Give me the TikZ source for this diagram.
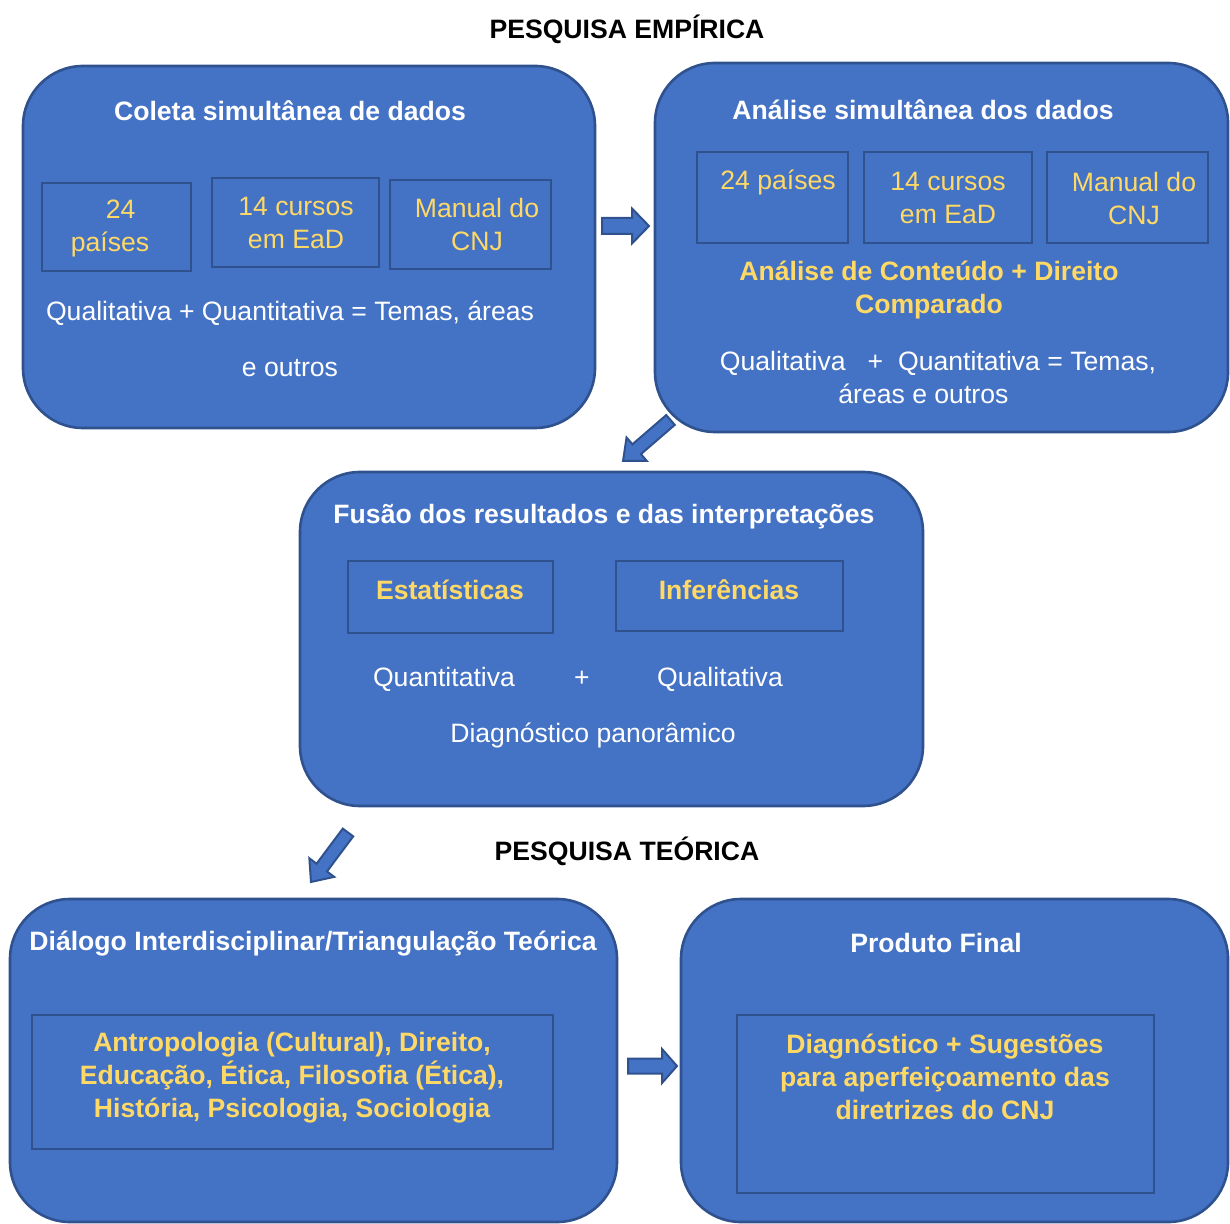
\documentclass[tikz,border=0pt]{standalone}
\usepackage{fontspec}
\setmainfont{Liberation Sans}
\usetikzlibrary{shapes.misc, arrows, shapes}

\definecolor{boxfill}{HTML}{4472C4}
\definecolor{boxline}{HTML}{2F528F}
\definecolor{gold}{HTML}{FFD966}

\tikzset{
	panel/.style={draw=boxline, line width=1.3pt, fill=boxfill, rounded corners=30pt},
	cell/.style={draw=boxline, line width=1pt},
	txt/.style={font=\fontsize{13.3pt}{16.5pt}\selectfont, text=white, align=center, inner sep=0pt},
	head/.style={txt, font=\fontsize{13.3pt}{16.5pt}\selectfont\bfseries},
	gtxt/.style={txt, text=gold},
	ghead/.style={head, text=gold},
	title/.style={head, text=black},
	barrow/.style={draw=boxline, line width=1pt, fill=boxfill, line join=miter}
}

% block arrow: x, y, angle, length, head length, body half, head half
\newcommand{\blockarrow}[7]{
	\begin{scope}[shift={(#1,#2)}, rotate=#3]
		\draw[barrow] (0,-#6) -- (#4-#5,-#6) -- (#4-#5,-#7) -- (#4,0)
			-- (#4-#5,#7) -- (#4-#5,#6) -- (0,#6) -- cycle;
	\end{scope}
}

\begin{document}
\begin{tikzpicture}[x=0.5pt, y=-0.5pt]
		\path[use as bounding box] (0,0) rectangle (1230,1224);

		% empirical part
		\node[title] (tEmp) at (627,29) {PESQUISA EMPÍRICA};

		\draw[panel] (23,66) rectangle (595,428);
		\foreach \xa/\ya/\xb/\yb in {42/183/191/271, 212/178/379/267, 390/180/551/269}{
			\draw[cell] (\xa,\ya) rectangle (\xb,\yb);
		}
		\node[head] (colHead) at (290,111) {Coleta simultânea de dados};
		\node[gtxt] (col24) at (110,228) {\hspace{0.8em}24\\países};
		\node[gtxt] (col14) at (296,223) {14 cursos\\em EaD};
		\node[gtxt] (colMan) at (477,224) {Manual do\\CNJ};
		\node[txt] (colQual) at (290,313) {Qualitativa + Quantitativa = Temas, áreas};
		\node[txt] (colOut) at (290,368) {e outros};

		\draw[panel] (655,63) rectangle (1228,432);
		\foreach \xa/\ya/\xb/\yb in {697/152/848/243, 864/152/1032/243, 1047/152/1208/243}{
			\draw[cell] (\xa,\ya) rectangle (\xb,\yb);
		}
		\node[head] (anaHead) at (923,110) {Análise simultânea dos dados};
		\node[gtxt] (ana24) at (778,182) {24 países};
		\node[gtxt] (ana14) at (948,198) {14 cursos\\em EaD};
		\node[gtxt] (anaMan) at (1134,198) {Manual do\\CNJ};
		\node[ghead] (anaCont) at (929,290) {Análise de Conteúdo + Direito\\Comparado};
		\node[txt] (anaQual) at (938,377) {Qualitativa \ \ + \ Quantitativa = Temas,\\\hspace{-1.1em}áreas e outros};

		\blockarrow{602}{226}{0}{47}{17}{8}{17.5}
		\blockarrow{670.5}{420}{220.8}{62.7}{18}{6.5}{15.5}

		% merging
		\draw[panel] (300,472) rectangle (923,806);
		\draw[cell] (348,561) rectangle (553,633);
		\draw[cell] (616,561) rectangle (843,631);
		\node[head] (fusHead) at (604,517) {Fusão dos resultados e das interpretações};
		\node[ghead] (fusEst) at (450,590) {Estatísticas};
		\node[ghead] (fusInf) at (729,590) {Inferências};
		\node[txt] (fusQuant) at (444,679) {Quantitativa};
		\node[txt] (fusPlus) at (582,679) {+};
		\node[txt] (fusQual) at (720,679) {Qualitativa};
		\node[txt] (fusDiag) at (593,735) {Diagnóstico panorâmico};

		\blockarrow{348}{832.5}{233.2}{61.8}{18}{6.5}{15.5}

		% theoretical part
		\node[title] (tTeo) at (627,851) {PESQUISA TEÓRICA};

		\draw[panel] (10,899) rectangle (617,1222);
		\draw[cell] (32,1015) rectangle (553,1149);
		\node[head] (dialHead) at (313,944) {Diálogo Interdisciplinar/Triangulação Teórica};
		\node[ghead] (dialAreas) at (292,1078) {Antropologia (Cultural), Direito,\\Educação, Ética, Filosofia (Ética),\\História, Psicologia, Sociologia};

		\draw[panel] (681,899) rectangle (1228,1222);
		\draw[cell] (737,1015) rectangle (1154,1193);
		\node[head] (prodHead) at (936,943) {Produto Final};
		\node[ghead] (prodText) at (945,1077) {Diagnóstico + Sugestões\\para aperfeiçoamento das\\diretrizes do CNJ};

		\blockarrow{628}{1066}{0}{49}{15}{7.5}{17}
	\end{tikzpicture}
\end{document}
